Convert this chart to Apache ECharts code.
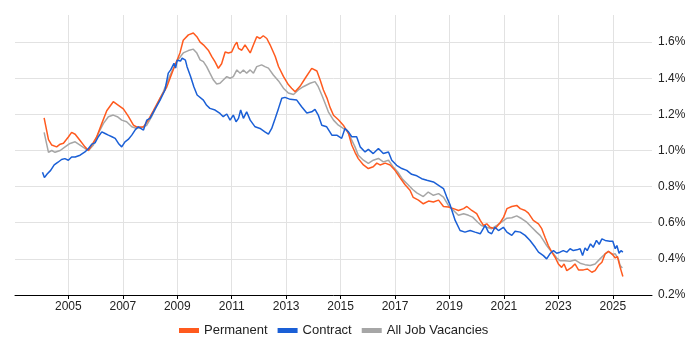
<!DOCTYPE html>
<html>
<head>
<meta charset="utf-8">
<script src="https://cdn.jsdelivr.net/npm/echarts@6/dist/echarts.min.js"></script>
<style>
html,body{margin:0;padding:0;background:#fff;}
#chart{width:700px;height:350px;}
</style>
</head>
<body>
<div id="chart"></div>
<script>
// Series names
const seriesNames = ['Permanent', 'Contract', 'All Job Vacancies'];

// X tick labels (years)
const xTickYears = [2005, 2007, 2009, 2011, 2013, 2015, 2017, 2019, 2021, 2023, 2025];
// Y tick labels (percent)
const yTickValues = [0.2, 0.4, 0.6, 0.8, 1.0, 1.2, 1.4, 1.6];

// [decimal year, percent]
const permanent = [
[2004.11,1.18],[2004.27,1.06],[2004.39,1.03],[2004.57,1.02],[2004.70,1.035],[2004.82,1.04],
[2005.00,1.075],[2005.12,1.10],[2005.25,1.09],[2005.43,1.055],[2005.61,1.02],[2005.74,1.00],[2005.86,1.03],
[2006.04,1.075],[2006.23,1.15],[2006.41,1.22],[2006.65,1.27],[2006.84,1.25],
[2007.02,1.23],[2007.20,1.19],[2007.39,1.14],[2007.51,1.13],[2007.76,1.13],[2007.94,1.17],
[2008.12,1.22],[2008.37,1.29],[2008.61,1.35],[2008.86,1.45],
[2009.10,1.54],[2009.22,1.61],[2009.41,1.64],[2009.59,1.65],[2009.72,1.63],[2009.84,1.60],[2009.96,1.585],
[2010.14,1.555],[2010.27,1.52],[2010.39,1.49],[2010.51,1.455],[2010.63,1.48],[2010.76,1.545],[2010.88,1.54],
[2011.00,1.545],[2011.12,1.585],[2011.19,1.60],[2011.25,1.565],[2011.37,1.555],[2011.49,1.585],[2011.68,1.54],[2011.80,1.585],[2011.92,1.63],
[2012.04,1.62],[2012.16,1.635],[2012.29,1.62],[2012.41,1.585],[2012.60,1.52],[2012.72,1.465],[2012.90,1.41],
[2013.08,1.365],[2013.20,1.345],[2013.33,1.325],[2013.51,1.355],[2013.70,1.40],[2013.94,1.455],
[2014.13,1.44],[2014.25,1.39],[2014.37,1.335],[2014.50,1.29],[2014.61,1.24],[2014.74,1.195],[2014.92,1.17],
[2015.10,1.14],[2015.29,1.095],[2015.41,1.03],[2015.53,0.99],[2015.65,0.955],[2015.84,0.92],
[2016.02,0.90],[2016.20,0.91],[2016.33,0.93],[2016.45,0.92],[2016.64,0.93],[2016.82,0.92],
[2017.00,0.89],[2017.18,0.85],[2017.37,0.81],[2017.55,0.78],[2017.67,0.74],[2017.86,0.725],
[2018.04,0.705],[2018.23,0.72],[2018.41,0.715],[2018.60,0.725],[2018.78,0.69],[2018.96,0.687],
[2019.15,0.678],[2019.33,0.668],[2019.52,0.678],[2019.64,0.69],[2019.82,0.668],
[2020.00,0.65],[2020.13,0.613],[2020.25,0.585],[2020.37,0.594],[2020.49,0.575],[2020.67,0.567],[2020.86,0.60],[2020.99,0.631],
[2021.11,0.678],[2021.29,0.69],[2021.47,0.696],[2021.60,0.678],[2021.78,0.668],[2021.90,0.653],
[2022.08,0.613],[2022.27,0.594],[2022.39,0.567],[2022.51,0.52],[2022.63,0.474],[2022.76,0.437],[2022.88,0.409],
[2023.00,0.372],[2023.12,0.353],[2023.21,0.372],[2023.31,0.335],[2023.49,0.353],[2023.61,0.372],[2023.74,0.339],[2023.92,0.339],
[2024.07,0.344],[2024.23,0.326],[2024.35,0.335],[2024.47,0.363],[2024.60,0.381],[2024.72,0.428],[2024.84,0.442],[2024.97,0.428],
[2025.09,0.405],[2025.17,0.413],[2025.27,0.353],[2025.37,0.302]
];

const contract = [
[2004.05,0.88],[2004.12,0.85],[2004.22,0.87],[2004.35,0.89],[2004.48,0.92],[2004.62,0.935],[2004.75,0.95],[2004.87,0.955],
[2005.00,0.946],[2005.12,0.964],[2005.25,0.964],[2005.43,0.974],[2005.61,0.992],[2005.74,1.011],[2005.86,1.035],[2005.98,1.042],
[2006.10,1.076],[2006.23,1.103],[2006.35,1.094],[2006.47,1.085],[2006.60,1.076],[2006.72,1.067],[2006.84,1.039],[2006.96,1.02],
[2007.08,1.048],[2007.20,1.061],[2007.33,1.085],[2007.45,1.113],[2007.57,1.131],[2007.76,1.113],[2007.88,1.168],
[2008.00,1.178],[2008.20,1.233],[2008.37,1.279],[2008.55,1.335],[2008.67,1.428],[2008.76,1.446],[2008.88,1.483],[2008.94,1.456],
[2009.00,1.50],[2009.12,1.495],[2009.18,1.511],[2009.30,1.50],[2009.36,1.464],[2009.49,1.409],[2009.61,1.353],[2009.73,1.307],[2009.96,1.279],
[2010.08,1.25],[2010.20,1.233],[2010.39,1.224],[2010.57,1.205],[2010.69,1.187],[2010.82,1.202],[2010.94,1.168],
[2011.06,1.196],[2011.16,1.159],[2011.25,1.178],[2011.33,1.224],[2011.43,1.178],[2011.55,1.214],[2011.68,1.168],[2011.86,1.131],
[2012.04,1.122],[2012.22,1.103],[2012.35,1.09],[2012.47,1.122],[2012.60,1.178],[2012.72,1.233],[2012.84,1.289],[2012.96,1.294],
[2013.15,1.283],[2013.39,1.279],[2013.57,1.242],[2013.76,1.207],[2013.94,1.214],
[2014.06,1.228],[2014.18,1.196],[2014.31,1.14],[2014.49,1.131],[2014.68,1.085],[2014.86,1.085],
[2015.04,1.067],[2015.16,1.122],[2015.29,1.103],[2015.41,1.076],[2015.59,1.076],[2015.72,1.02],[2015.90,0.992],
[2016.02,1.006],[2016.20,0.983],[2016.39,1.011],[2016.57,0.983],[2016.76,0.992],[2016.88,0.946],
[2017.06,0.918],[2017.25,0.90],[2017.43,0.89],[2017.61,0.868],[2017.80,0.86],[2017.98,0.844],
[2018.17,0.835],[2018.41,0.826],[2018.60,0.807],[2018.78,0.789],[2018.90,0.742],
[2019.03,0.696],[2019.21,0.613],[2019.39,0.557],[2019.57,0.548],[2019.76,0.557],[2019.94,0.548],
[2020.13,0.539],[2020.19,0.53],[2020.31,0.585],[2020.43,0.548],[2020.55,0.539],[2020.67,0.575],[2020.80,0.557],[2020.98,0.575],
[2021.11,0.548],[2021.29,0.53],[2021.41,0.553],[2021.60,0.548],[2021.78,0.53],[2021.96,0.502],
[2022.15,0.464],[2022.27,0.437],[2022.45,0.418],[2022.57,0.40],[2022.69,0.428],[2022.82,0.446],[2022.94,0.431],
[2023.06,0.437],[2023.18,0.446],[2023.31,0.437],[2023.43,0.456],[2023.55,0.446],[2023.68,0.45],[2023.80,0.456],[2023.89,0.418],[2023.98,0.461],
[2024.06,0.446],[2024.18,0.483],[2024.28,0.464],[2024.40,0.502],[2024.50,0.48],[2024.60,0.511],[2024.72,0.502],[2024.89,0.498],
[2025.00,0.498],[2025.09,0.456],[2025.15,0.474],[2025.23,0.431],[2025.30,0.446],[2025.37,0.437]
];

const allJobs = [
[2004.11,1.10],[2004.27,0.99],[2004.39,1.00],[2004.51,0.99],[2004.70,1.00],[2004.88,1.02],
[2005.06,1.039],[2005.25,1.048],[2005.43,1.03],[2005.61,1.011],[2005.74,1.00],[2005.92,1.03],
[2006.10,1.094],[2006.29,1.15],[2006.47,1.187],[2006.65,1.196],[2006.80,1.187],[2006.96,1.168],
[2007.14,1.159],[2007.33,1.131],[2007.51,1.122],[2007.70,1.128],[2007.88,1.14],
[2008.06,1.187],[2008.25,1.25],[2008.49,1.326],[2008.74,1.418],[2008.98,1.492],
[2009.22,1.54],[2009.41,1.553],[2009.59,1.561],[2009.72,1.539],[2009.84,1.502],[2009.96,1.492],
[2010.08,1.464],[2010.20,1.428],[2010.33,1.39],[2010.45,1.368],[2010.57,1.372],[2010.69,1.39],[2010.82,1.409],[2010.94,1.40],
[2011.06,1.409],[2011.19,1.446],[2011.31,1.428],[2011.43,1.446],[2011.55,1.428],[2011.68,1.446],[2011.80,1.428],[2011.92,1.464],
[2012.10,1.474],[2012.22,1.464],[2012.35,1.456],[2012.53,1.418],[2012.72,1.385],[2012.90,1.345],
[2013.08,1.318],[2013.27,1.31],[2013.45,1.335],[2013.63,1.353],[2013.88,1.372],
[2014.06,1.381],[2014.18,1.353],[2014.31,1.307],[2014.43,1.261],[2014.55,1.214],[2014.74,1.168],[2014.92,1.14],
[2015.10,1.122],[2015.23,1.113],[2015.41,1.057],[2015.53,1.02],[2015.65,0.974],[2015.84,0.946],
[2016.02,0.928],[2016.20,0.946],[2016.39,0.956],[2016.57,0.937],[2016.76,0.946],[2016.92,0.912],
[2017.10,0.881],[2017.28,0.84],[2017.47,0.812],[2017.65,0.784],[2017.80,0.765],
[2018.04,0.745],[2018.22,0.77],[2018.41,0.752],[2018.60,0.761],[2018.78,0.742],[2018.96,0.696],
[2019.15,0.668],[2019.33,0.641],[2019.52,0.65],[2019.70,0.641],[2019.85,0.631],
[2020.04,0.603],[2020.17,0.585],[2020.37,0.575],[2020.55,0.567],[2020.74,0.585],[2020.92,0.605],
[2021.11,0.625],[2021.29,0.628],[2021.47,0.638],[2021.66,0.622],[2021.84,0.603],
[2022.02,0.575],[2022.20,0.548],[2022.33,0.53],[2022.45,0.502],[2022.57,0.474],[2022.69,0.45],[2022.82,0.428],[2022.94,0.405],
[2023.06,0.39],[2023.24,0.39],[2023.43,0.387],[2023.61,0.394],[2023.80,0.376],[2023.98,0.368],
[2024.17,0.363],[2024.35,0.372],[2024.53,0.40],[2024.72,0.428],[2024.84,0.442],[2024.97,0.424],
[2025.09,0.428],[2025.20,0.40],[2025.27,0.363],[2025.35,0.35]
];

const colors = {
  'Permanent': '#ff5a1e',
  'Contract': '#1a5fd6',
  'All Job Vacancies': '#a6a6a6'
};

const chart = echarts.init(document.getElementById('chart'), null, {renderer: 'canvas'});
const fontFamily = 'Arial, "Liberation Sans", sans-serif';

function lineSeries(name, data, z) {
  return {
    name: name,
    type: 'line',
    data: data,
    showSymbol: false,
    symbol: 'none',
    z: z,
    lineStyle: { width: 1.5, color: colors[name] },
    itemStyle: { color: colors[name] },
    emphasis: { disabled: true }
  };
}

chart.setOption({
  animation: false,
  backgroundColor: '#ffffff',
  textStyle: { fontFamily: fontFamily },
  grid: { left: 15, right: 48, top: 15, bottom: 55, containLabel: false },
  legend: {
    data: seriesNames,
    bottom: 8,
    left: 174,
    icon: 'rect',
    itemWidth: 20,
    itemHeight: 5,
    itemGap: 10,
    textStyle: { fontSize: 13, color: '#222', fontFamily: fontFamily }
  },
  xAxis: {
    type: 'value',
    min: 2003.04,
    max: 2026.44,
    axisLine: { show: true, lineStyle: { color: '#000', width: 1 } },
    axisTick: { show: true, length: 4, lineStyle: { color: '#000' }, customValues: xTickYears },
    axisLabel: {
      customValues: xTickYears,
      margin: 6,
      fontSize: 12,
      color: '#222',
      fontFamily: fontFamily,
      formatter: v => String(Math.round(v))
    },
    splitLine: { show: true, lineStyle: { color: '#e2e2e2', width: 1 } }
  },
  yAxis: {
    type: 'value',
    position: 'right',
    min: 0.2,
    max: 1.75,
    axisLine: { show: false },
    axisTick: { show: false, customValues: yTickValues },
    axisLabel: {
      customValues: yTickValues,
      margin: 6,
      fontSize: 12,
      color: '#222',
      fontFamily: fontFamily,
      formatter: v => v.toFixed(1) + '%'
    },
    splitLine: { show: true, lineStyle: { color: '#e2e2e2', width: 1 } }
  },
  series: [
    lineSeries('All Job Vacancies', allJobs, 2),
    lineSeries('Permanent', permanent, 3),
    lineSeries('Contract', contract, 4)
  ]
});
</script>
</body>
</html>
